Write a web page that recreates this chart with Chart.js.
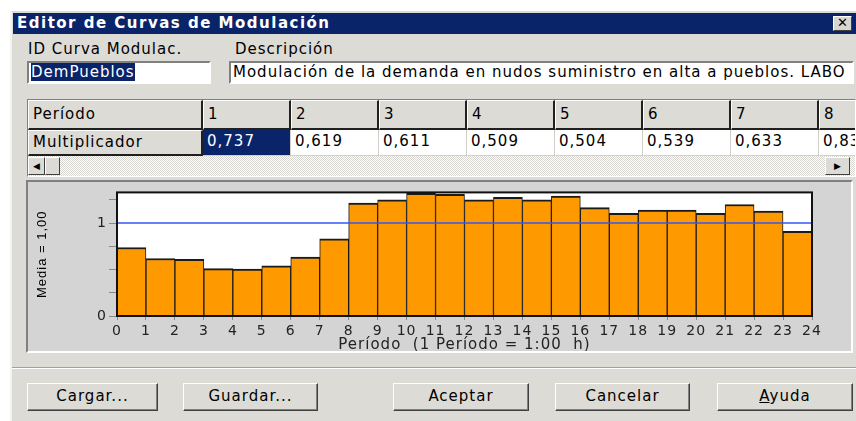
<!DOCTYPE html>
<html>
<head>
<meta charset="utf-8">
<script src="https://cdn.jsdelivr.net/npm/chart.js@4.4.1/dist/chart.umd.min.js"></script>
<style>
  body { margin: 0; width: 856px; height: 421px; overflow: hidden; background: #fff;
         font-family: "DejaVu Sans", sans-serif; font-size: 15px; letter-spacing: 1px; color: #000; }
  .abs { position: absolute; }
  #win { left: 10px; top: 11px; width: 846px; height: 410px; background: #dddbd5;
         border-left: 2px solid #f4f3ee; box-sizing: border-box; }
  #titlebar { left: 13px; top: 13px; width: 843px; height: 21px; background: #0a246a;
              color: #fff; font-weight: bold; font-size: 15px; letter-spacing: 1.5px; line-height: 21px; padding-left: 4px; box-sizing: border-box; }
  #close { left: 833px; top: 16px; width: 19px; height: 15px; background: #d8d6d0; letter-spacing: 0;
           border: 1px solid; border-color: #fff #404040 #404040 #fff; box-sizing: border-box;
           font-size: 13px; line-height: 12px; text-align: center; font-weight: bold; }
  .label { white-space: nowrap; }
  .edit { background: #fff; border: 2px solid; border-color: #808080 #fff #fff #808080;
          box-sizing: border-box; white-space: nowrap; overflow: hidden; padding-left: 2px; line-height: 18px; }
  .sel, .cell.sel { background: #0a246a; color: #fff; }
  #grid { left: 27px; top: 99px; width: 829px; height: 78px; border: 1px solid; border-color: #808080 #fff #fff #808080;
          box-sizing: border-box; overflow: hidden; background: #fff; }
  .cell { position: absolute; box-sizing: border-box; padding-left: 4px; line-height: 24px; white-space: nowrap; overflow: hidden; }
  .hdr { background: #dddbd5; border: 1px solid; border-color: #fff #202020 #202020 #fff; border-width: 1px 2px 2px 1px; }
  .dat { background: #fff; border-right: 1px solid #d4d0c8; border-bottom: 1px solid #d4d0c8; }
  #scroll { left: 0; top: 56px; width: 829px; height: 20px;
            background-image: repeating-conic-gradient(#fff 0% 25%, #d8d6d0 0% 50%); background-size: 2px 2px; }
  .sbtn { position: absolute; top: 1px; height: 18px; background: #dddbd5; box-sizing: border-box; letter-spacing: 0;
          border: 1px solid; border-color: #fff #404040 #404040 #fff; font-size: 9px; line-height: 16px; text-align: center; }
  #panel { left: 26px; top: 180px; width: 827px; height: 173px; background: #d4d4d4; box-sizing: border-box;
           border: 2px solid; border-color: #808080 #fff #fff #808080; }
  #chart { position: absolute; left: 28px; top: 182px; }
  #sep { left: 12px; top: 367px; width: 844px; height: 2px; border-top: 1px solid #a0a0a0; border-bottom: 1px solid #fff; box-sizing: border-box; }
  .btn { position: absolute; top: 383px; height: 28px; background: #dddbd5; box-sizing: border-box;
         border: 1px solid; border-color: #fff #404040 #404040 #fff; box-shadow: inset -1px -1px 0 #808080;
         text-align: center; line-height: 25px; font-size: 15px; }
</style>
</head>
<body>
<div id="win" class="abs"></div>
<div id="titlebar" class="abs">Editor de Curvas de Modulación</div>
<div id="close" class="abs">✕</div>

<div class="abs label" style="left:28px; top:40px;">ID Curva Modulac.</div>
<div class="abs label" style="left:235px; top:40px;">Descripción</div>
<div class="abs edit" style="left:27px; top:61px; width:184px; height:23px;"><span class="sel">DemPueblos</span></div>
<div class="abs edit" style="left:229px; top:61px; width:625px; height:23px;">Modulación de la demanda en nudos suministro en alta a pueblos. LABO</div>

<div id="grid" class="abs"></div>
<div id="panel" class="abs"></div>
<canvas id="chart" width="822" height="169"></canvas>

<div id="sep" class="abs"></div>
<div class="btn" style="left:27px; width:131px;">Cargar...</div>
<div class="btn" style="left:183px; width:135px;">Guardar...</div>
<div class="btn" style="left:393px; width:136px;">Aceptar</div>
<div class="btn" style="left:555px; width:135px;">Cancelar</div>
<div class="btn" style="left:717px; width:136px;"><u>A</u>yuda</div>

<script>
// periods (hours) and demand multipliers
const periods = [1, 2, 3, 4, 5, 6, 7, 8, 9, 10, 11, 12, 13, 14, 15, 16, 17, 18, 19, 20, 21, 22, 23, 24]
const multipliers = [0.737, 0.619, 0.611, 0.509, 0.504, 0.539, 0.633, 0.830,
  1.216, 1.250, 1.320, 1.310, 1.250, 1.277, 1.250, 1.290,
  1.167, 1.106, 1.140, 1.140, 1.106, 1.200, 1.130, 0.910]
const xTicks = [0, 1, 2, 3, 4, 5, 6, 7, 8, 9, 10, 11, 12, 13, 14, 15, 16, 17, 18, 19, 20, 21, 22, 23, 24]
const yTickLabels = [0, 1]

const mean = multipliers.reduce((a, b) => a + b, 0) / multipliers.length
const fmt = (v, d) => v.toFixed(d).replace('.', ',')

// grid of the editor
const grid = document.getElementById('grid')
let html = '<div class="cell hdr" style="left:0;top:0;width:175px;height:30px;line-height:26px">Período</div>' +
  '<div class="cell hdr" style="left:0;top:30px;width:175px;height:26px;line-height:23px">Multiplicador</div>'
periods.slice(0, 8).forEach((p, i) => {
  const left = 175 + i * 88
  html += `<div class="cell hdr" style="left:${left}px;top:0;width:88px;height:30px;line-height:26px">${p}</div>`
  html += `<div class="cell dat${i === 0 ? ' sel' : ''}" style="left:${left}px;top:30px;width:88px;height:26px;line-height:23px">${fmt(multipliers[i], 3)}</div>`
})
html += '<div id="scroll" class="abs">' +
  '<div class="sbtn" style="left:0;width:17px">&#9664;</div>' +
  '<div class="sbtn" style="left:17px;width:15px"></div>' +
  '<div class="sbtn" style="left:797px;width:25px">&#9654;</div></div>'
grid.innerHTML = html

// white plot background, black frame, slightly wider text
const frame = {
  id: 'frame',
  beforeDraw (chart) {
    chart.ctx.letterSpacing = '1px'
  },
  beforeDatasetsDraw (chart) {
    const { ctx, chartArea: a } = chart
    ctx.save()
    ctx.fillStyle = '#fff'
    ctx.fillRect(a.left, a.top, a.right - a.left, a.bottom - a.top)
    ctx.restore()
  },
  afterDraw (chart) {
    const { ctx, chartArea: a } = chart
    ctx.save()
    ctx.strokeStyle = '#111'
    ctx.lineWidth = 2
    ctx.strokeRect(a.left, a.top, a.right - a.left, a.bottom - a.top)
    ctx.restore()
  }
}

const tickFont = { family: 'DejaVu Sans', size: 14 }

new Chart(document.getElementById('chart'), {
  type: 'bar',
  data: {
    datasets: [
      {
        type: 'line',
        data: [{ x: 0, y: mean }, { x: 24, y: mean }],
        borderColor: '#3456f5',
        borderWidth: 1.5,
        pointRadius: 0,
        order: 0
      },
      {
        type: 'bar',
        data: multipliers.map((v, i) => ({ x: periods[i] - 0.5, y: v })),
        backgroundColor: '#ff9900',
        borderColor: '#1a1a1a',
        borderWidth: { top: 2, left: 1, right: 1, bottom: 0 },
        borderSkipped: false,
        barPercentage: 1,
        categoryPercentage: 1,
        order: 1
      }
    ]
  },
  options: {
    responsive: false,
    animation: false,
    layout: { padding: { top: 9, right: 38, left: 0, bottom: 0 } },
    plugins: { legend: { display: false }, tooltip: { enabled: false } },
    scales: {
      x: {
        type: 'linear',
        min: 0,
        max: 24,
        offset: false,
        afterBuildTicks: s => { s.ticks = xTicks.map(v => ({ value: v })) },
        afterFit: s => { s.height = 35 },
        ticks: { autoSkip: false, maxRotation: 0, padding: 3, color: '#222', font: tickFont },
        grid: { drawOnChartArea: false, offset: false, tickLength: 4, color: '#888' },
        border: { display: false },
        title: {
          display: true,
          text: 'Período  (1 Período = 1:00  h)',
          color: '#222',
          font: { family: 'DejaVu Sans', size: 15, lineHeight: 1 },
          padding: { top: 0, bottom: -2 }
        }
      },
      y: {
        min: 0,
        max: 1.33,
        afterFit: s => { s.width = 89 },
        ticks: {
          stepSize: 0.25,
          includeBounds: false,
          padding: 2,
          color: '#222',
          font: tickFont,
          callback: v => yTickLabels.includes(v) ? String(v) : ''
        },
        grid: { drawOnChartArea: false, tickLength: 8, color: '#888' },
        border: { display: false },
        title: {
          display: true,
          text: 'Media = ' + fmt(mean, 2),
          color: '#000',
          font: { family: 'Liberation Sans', size: 13, lineHeight: 1 },
          padding: { top: 8, bottom: 0 }
        }
      }
    }
  },
  plugins: [frame]
})
</script>
</body>
</html>
